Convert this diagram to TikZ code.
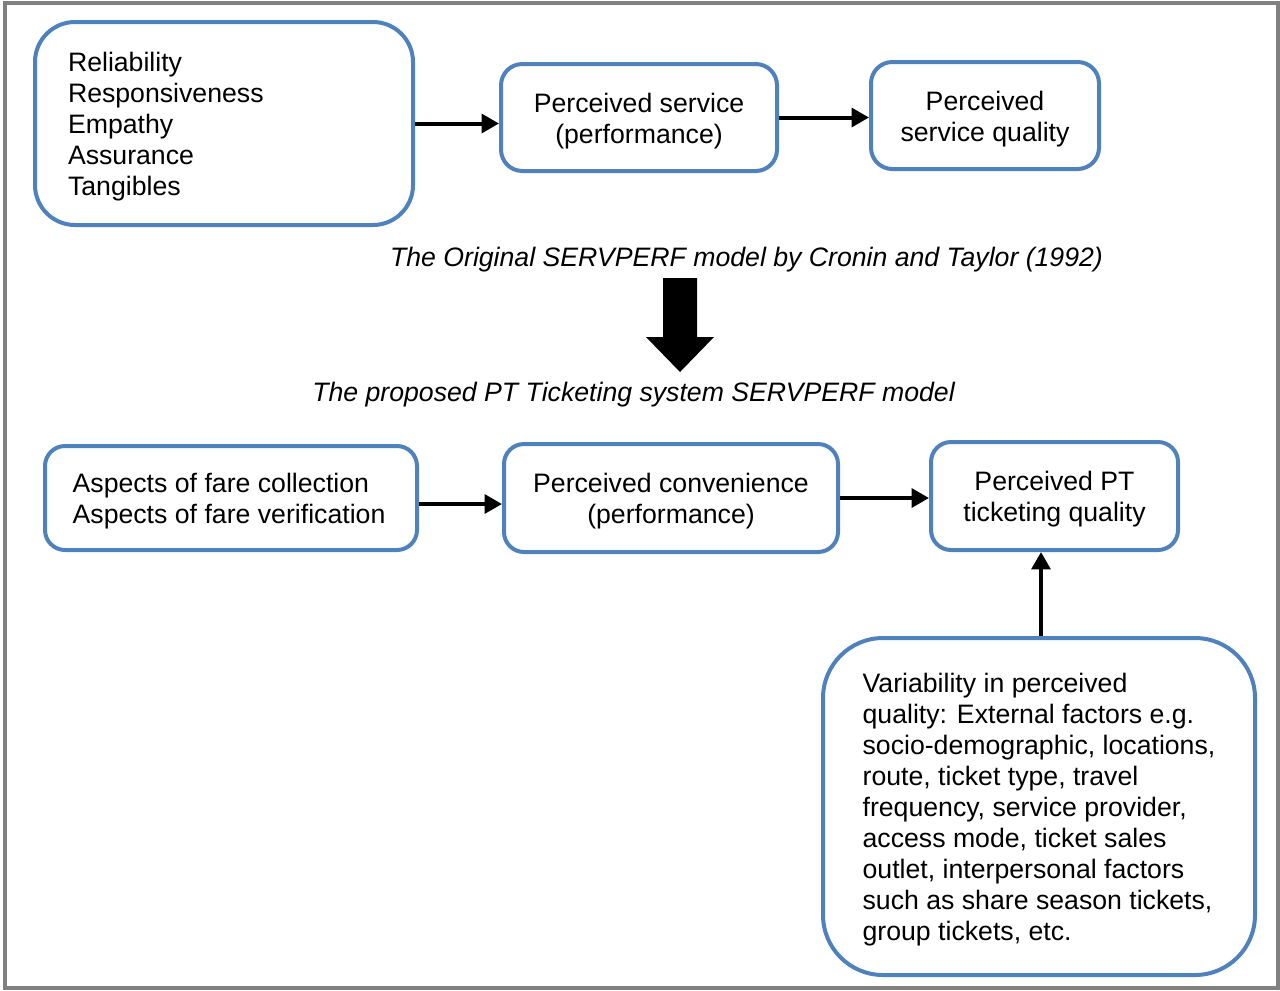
\documentclass[tikz,border=0pt]{standalone}
\usepackage{fontspec}
\setmainfont{Liberation Sans}
\usetikzlibrary{arrows.meta}
\definecolor{boxblue}{HTML}{4F81BD}
\definecolor{framegray}{HTML}{808080}
\begin{document}
\begin{tikzpicture}[x=0.75pt,y=-0.75pt,
  box/.style={draw=boxblue,line width=3pt,fill=white,inner sep=0pt},
  txt/.style={inner sep=0pt,yshift=-2.6pt,font=\fontsize{20}{23.25}\selectfont},
  conn/.style={line width=3pt,-{Triangle[length=13pt,width=14pt]}},
  captext/.style={font=\fontsize{20}{23.25}\selectfont\itshape,inner sep=0pt}
]
\useasboundingbox (0,0) rectangle (1280,990);
\draw[framegray,line width=3pt] (5,2.5) rectangle (1277.5,988);

% top row
\node[box,rounded corners=30pt,minimum width=378*0.75pt,minimum height=203*0.75pt] (b1) at (224,123.5) {};
\node[txt,text width=312*0.75pt,align=left] (t1) at (b1.center)
  {Reliability\\Responsiveness\\Empathy\\Assurance\\Tangibles};
\node[box,rounded corners=16pt,minimum width=276*0.75pt,minimum height=107*0.75pt] (b2) at (639,117.5) {};
\node[txt,align=center] (t2) at (b2.center) {Perceived service\\(performance)};
\node[box,rounded corners=16pt,minimum width=228*0.75pt,minimum height=107*0.75pt] (b3) at (985,115.5) {};
\node[txt,align=center] (t3) at (b3.center) {Perceived\\service quality};

\draw[conn] (b1.east) -- (b1.east -| b2.west);
\draw[conn] (b2.east) -- (b2.east -| b3.west);

\node[captext] (c1) at (746.5,260) {The Original SERVPERF model by Cronin and Taylor (1992)};

% big arrow
\fill[black] (663,278) -- (697,278) -- (697,337) -- (714,337) -- (680,372)
  -- (646,337) -- (663,337) -- cycle;

\node[captext] (c2) at (633.5,395) {The proposed PT Ticketing system SERVPERF model};

% bottom row
\node[box,rounded corners=15pt,minimum width=372*0.75pt,minimum height=104*0.75pt] (b4) at (231,498) {};
\node[txt,align=left] (t4) at ([xshift=-1.5pt]b4.center) {Aspects of fare collection\\Aspects of fare verification};
\node[box,rounded corners=15pt,minimum width=334*0.75pt,minimum height=108*0.75pt] (b5) at (671,498) {};
\node[txt,align=center] (t5) at (b5.center) {Perceived convenience\\(performance)};
\node[box,rounded corners=15pt,minimum width=247*0.75pt,minimum height=108*0.75pt] (b6) at (1054.5,496) {};
\node[txt,align=center] (t6) at (b6.center) {Perceived PT\\ticketing quality};
\node[box,rounded corners=45pt,minimum width=432*0.75pt,minimum height=337*0.75pt] (b7) at (1039,806.5) {};
\node[txt,align=left] (t7) at (b7.center) {Variability in perceived\\quality: External factors e.g.\\socio-demographic, locations,\\route, ticket type, travel\\frequency, service provider,\\access mode, ticket sales\\outlet, interpersonal factors\\such as share season tickets,\\group tickets, etc.};

\draw[conn] ([yshift=-4.5pt]b4.east) -- ([yshift=-4.5pt]b4.east -| b5.west);
\draw[conn] (b5.east) -- (b5.east -| b6.west);
\draw[conn] ([xshift=1.5pt]b7.north) -- ([xshift=1.5pt]b7.north |- b6.south);
\end{tikzpicture}
\end{document}
